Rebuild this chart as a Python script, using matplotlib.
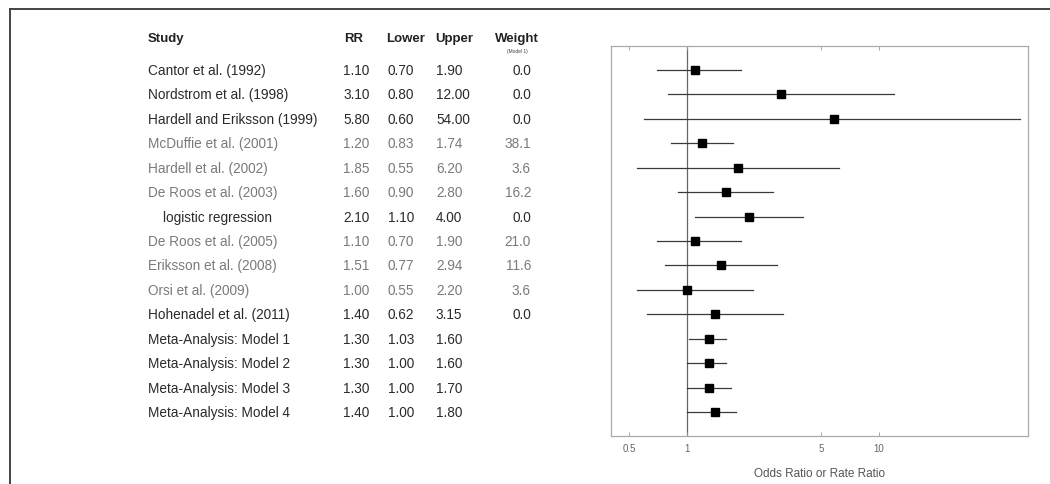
import matplotlib
matplotlib.use("Agg")
import matplotlib.pyplot as plt
from matplotlib.lines import Line2D
from matplotlib.transforms import blended_transform_factory

plt.rcParams['font.family'] = ['Liberation Sans', 'DejaVu Sans']

studies = [
    "Cantor et al. (1992)",
    "Nordstrom et al. (1998)",
    "Hardell and Eriksson (1999)",
    "McDuffie et al. (2001)",
    "Hardell et al. (2002)",
    "De Roos et al. (2003)",
    "logistic regression",
    "De Roos et al. (2005)",
    "Eriksson et al. (2008)",
    "Orsi et al. (2009)",
    "Hohenadel et al. (2011)",
    "Meta-Analysis: Model 1",
    "Meta-Analysis: Model 2",
    "Meta-Analysis: Model 3",
    "Meta-Analysis: Model 4",
]
rr = [1.10, 3.10, 5.80, 1.20, 1.85, 1.60, 2.10, 1.10, 1.51, 1.00, 1.40, 1.30, 1.30, 1.30, 1.40]
lower = [0.70, 0.80, 0.60, 0.83, 0.55, 0.90, 1.10, 0.70, 0.77, 0.55, 0.62, 1.03, 1.00, 1.00, 1.00]
upper = [1.90, 12.00, 54.00, 1.74, 6.20, 2.80, 4.00, 1.90, 2.94, 2.20, 3.15, 1.60, 1.60, 1.70, 1.80]
weight = ["0.0", "0.0", "0.0", "38.1", "3.6", "16.2", "0.0", "21.0", "11.6", "3.6", "0.0", "", "", "", ""]
# rows that look faded in the scan
faded = [False, False, False, True, True, True, False, True, True, True, False, False, False, False, False]

xticks = [0.5, 1, 5, 10]
xticklabels = ["0.5", "1", "5", "10"]

fig = plt.figure(figsize=(10.5, 4.85), dpi=100)
ax = fig.add_axes([611 / 1050, 48 / 485, 417 / 1050, 390 / 485])

rows = list(range(len(studies)))
for i in rows:
    ax.plot([lower[i], upper[i]], [i, i], color='#3a3a3a', lw=0.9, zorder=2)
ax.plot(rr, rows, 's', color='black', markersize=5.5, zorder=3)
ax.axvline(1, color='#666666', lw=0.9, zorder=1)

ax.set_xscale('log')
ax.set_xlim(0.402, 59.7)
ax.set_ylim(14.98, -0.98)
ax.set_yticks([])
ax.set_xticks(xticks)
ax.set_xticklabels(xticklabels)
ax.xaxis.set_minor_locator(matplotlib.ticker.NullLocator())
ax.tick_params(axis='x', direction='in', length=3, width=0.6, color='#999999',
               labelsize=7, labelcolor='#666666', top=True, pad=5)
for s in ax.spines.values():
    s.set_color('#aaaaaa')
    s.set_linewidth(0.9)
ax.set_xlabel("Odds Ratio or Rate Ratio", fontsize=8.5, color='#555555', labelpad=10)

# table on the left, rows follow the data y positions
tr = blended_transform_factory(fig.transFigure, ax.transData)
fs = 9.8
for i in rows:
    c = '#7a7a7a' if faded[i] else '#2a2a2a'
    x0 = 163 if studies[i] == "logistic regression" else 148
    ax.text(x0 / 1050, i, studies[i], transform=tr, fontsize=fs, color=c, va='center', ha='left')
    ax.text(343 / 1050, i, "%.2f" % rr[i], transform=tr, fontsize=fs, color=c, va='center', ha='left')
    ax.text(388 / 1050, i, "%.2f" % lower[i], transform=tr, fontsize=fs, color=c, va='center', ha='left')
    ax.text(436 / 1050, i, "%.2f" % upper[i], transform=tr, fontsize=fs, color=c, va='center', ha='left')
    ax.text(531 / 1050, i, weight[i], transform=tr, fontsize=fs, color=c, va='center', ha='right')

hy = 1 - 39 / 485
fig.text(148 / 1050, hy, "Study", fontsize=9.5, fontweight='bold', color='#222222', va='center')
fig.text(354 / 1050, hy, "RR", fontsize=9.5, fontweight='bold', color='#222222', va='center', ha='center')
fig.text(406 / 1050, hy, "Lower", fontsize=9.5, fontweight='bold', color='#222222', va='center', ha='center')
fig.text(454 / 1050, hy, "Upper", fontsize=9.5, fontweight='bold', color='#222222', va='center', ha='center')
fig.text(517 / 1050, hy, "Weight", fontsize=9.5, fontweight='bold', color='#222222', va='center', ha='center')
fig.text(517 / 1050, 1 - 52 / 485, "(Model 1)", fontsize=3.5, color='#444444', va='center', ha='center')

# outer frame of the scanned figure (left and top only)
fig.add_artist(Line2D([10 / 1050, 10 / 1050], [0, 1 - 10 / 485], transform=fig.transFigure,
                      color='#444444', lw=1.4))
fig.add_artist(Line2D([10 / 1050, 1], [1 - 10 / 485, 1 - 10 / 485], transform=fig.transFigure,
                      color='#444444', lw=1.4))

fig.savefig("out.png", dpi=100)
